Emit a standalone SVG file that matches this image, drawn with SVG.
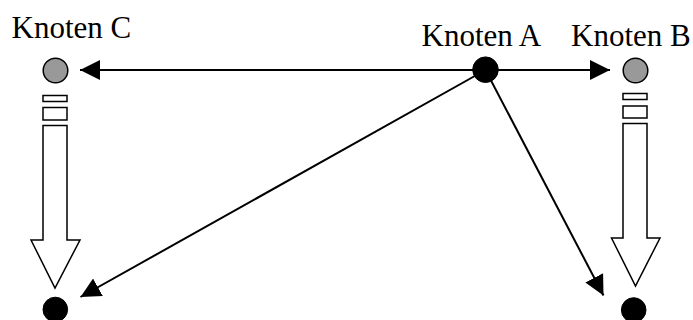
<svg xmlns="http://www.w3.org/2000/svg" width="693" height="320" viewBox="0 0 693 320">
  <style>
    .label { font-family: "Liberation Serif", "Times New Roman", serif; font-size: 31px; fill: #000; }
    .edge { stroke: #000; stroke-width: 2; fill: none; }
    .node-black { fill: #000; stroke: #000; stroke-width: 1; }
    .node-gray { fill: #999; stroke: #000; stroke-width: 1.5; }
    .block { fill: #fff; stroke: #000; stroke-width: 1.5; stroke-linejoin: miter; }
  </style>
  <defs>
    <marker id="head" markerUnits="userSpaceOnUse" markerWidth="20" markerHeight="20" refX="20" refY="10" orient="auto">
      <path d="M0,0 L20,10 L0,20 z" fill="#000"/>
    </marker>
  </defs>

  <rect width="693" height="320" fill="#fff"/>

  <!-- connectors -->
  <g id="connectors">
    <line class="edge" x1="485.5" y1="70" x2="80" y2="70" marker-end="url(#head)"/>
    <line class="edge" x1="485.5" y1="70" x2="610" y2="70" marker-end="url(#head)"/>
    <line class="edge" x1="485.5" y1="70" x2="80.5" y2="297" marker-end="url(#head)"/>
    <line class="edge" x1="485.5" y1="70" x2="603.5" y2="295.5" marker-end="url(#head)"/>
    <!-- hollow block arrows, left column -->
    <g id="block-left">
      <rect class="block" x="43" y="95.5" width="24" height="6"/>
      <rect class="block" x="43" y="107.5" width="24" height="12.5"/>
      <path class="block" d="M43,125.5 H67 V240 H80 L55,288 L31,240 H43 Z"/>
    </g>
    <!-- hollow block arrows, right column -->
    <g id="block-right">
      <rect class="block" x="623" y="93.5" width="24" height="6"/>
      <rect class="block" x="623" y="106" width="24" height="12"/>
      <path class="block" d="M623,123.5 H647 V238 H660 L635.5,286 L611.5,238 H623 Z"/>
    </g>
  </g>

  <g id="node-a">
    <circle class="node-black" cx="485.5" cy="69.7" r="12.8"/>
    <text class="label" x="421.5" y="46">Knoten A</text>
  </g>
  <g id="node-b">
    <circle class="node-gray" cx="635.5" cy="70.5" r="12.3"/>
    <text class="label" x="571" y="46">Knoten B</text>
  </g>
  <g id="node-c">
    <circle class="node-gray" cx="55.5" cy="70.5" r="12.3"/>
    <text class="label" x="11.5" y="38">Knoten C</text>
  </g>
  <g id="node-c-target">
    <circle class="node-black" cx="55.3" cy="309.5" r="12.3"/>
  </g>
  <g id="node-b-target">
    <circle class="node-black" cx="633.7" cy="310" r="12.3"/>
  </g>
</svg>
